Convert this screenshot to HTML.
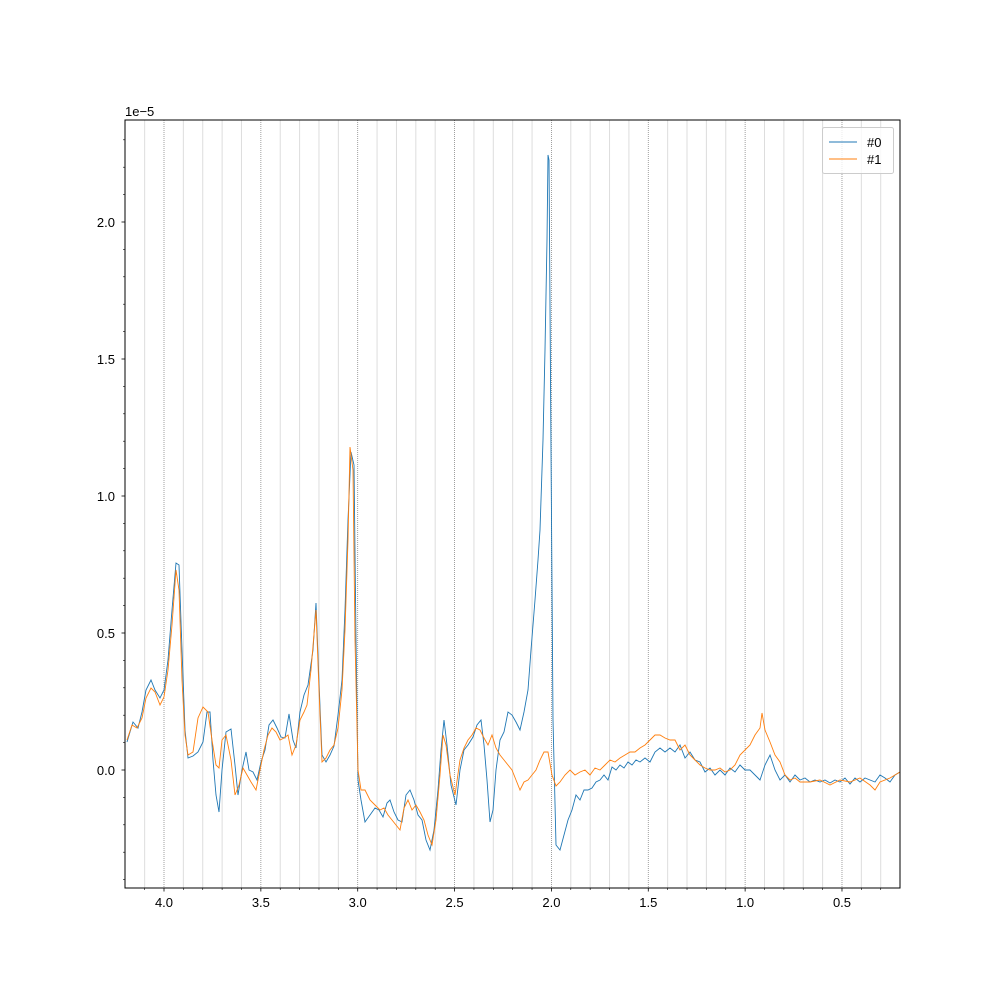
<!DOCTYPE html>
<html><head><meta charset="utf-8"><style>body{margin:0;background:#fff}svg{display:block}text{font-family:"Liberation Sans","DejaVu Sans",sans-serif;font-size:13px;fill:#000}</style></head>
<body>
<svg id="s" width="1000" height="1000" xmlns="http://www.w3.org/2000/svg">
<rect width="1000" height="1000" fill="#fff"/>
<g id="grid"></g>
<polyline fill="none" stroke="#1f77b4" stroke-width="0.9" points="127,742 133,722 138,728 142,712 146,690 151,680 155,690 160,698 164,690 168,660 172,610 176,563 179,565 182,650 185,730 188,758 193,756 198,752 203,742 207,712 210,712 213,760 216,795 219,812 222,770 226,732 231,729 235,765 238,795 242,770 246,752 249,770 253,772 257,780 261,762 265,750 269,725 273,720 277,728 281,737 285,738 289,714 293,740 296,748 300,712 304,695 308,685 313,650 316,603 319,682 322,755 326,762 330,755 334,746 338,715 342,680 345,610 348,520 351,452 354,465 356,640 358,780 361,800 365,822 370,815 375,808 379,810 383,817 387,803 390,800 394,812 398,820 402,822 406,795 410,790 414,800 418,815 422,820 426,840 430,850 434,830 438,790 441,750 444,720 447,745 451,785 456,805 460,770 464,750 468,745 473,737 477,725 481,720 484,745 487,780 490,822 493,810 496,770 500,740 504,732 508,712 512,715 516,722 520,730 524,712 528,690 531,650 535,600 538,560 540,530 543,440 545,350 547,240 548,155 549,160 551,450 553,720 556,845 560,850 564,835 568,820 572,810 576,795 580,800 584,790 588,790 592,788 596,782 600,780 604,775 608,780 612,767 616,770 620,765 624,768 628,762 632,765 636,760 640,762 645,758 650,762 655,752 660,748 665,752 670,748 675,752 680,745 685,758 690,752 695,760 700,762 705,772 710,768 715,775 720,770 725,775 730,768 735,772 740,765 745,770 750,770 755,775 760,780 765,765 770,755 775,770 780,780 785,775 790,782 795,775 800,780 805,778 810,782 815,780 820,782 825,780 830,783 835,780 840,782 845,778 850,784 855,778 860,782 865,778 870,780 875,782 880,775 885,778 890,782 895,775 900,772"/>
<polyline fill="none" stroke="#ff7f0e" stroke-width="0.9" points="127,740 132,725 137,728 142,718 146,698 151,688 155,692 160,705 164,697 168,670 172,625 176,570 179,590 182,680 185,735 188,755 193,752 198,718 203,707 208,712 212,740 216,765 219,768 222,740 226,735 231,760 235,795 239,785 243,768 247,775 251,782 256,790 260,770 264,750 268,735 272,728 276,732 280,740 284,738 288,735 292,755 296,745 300,720 304,712 307,705 311,670 316,610 319,690 322,762 326,758 330,750 334,745 338,728 342,690 345,630 348,540 350,447 353,470 355,640 358,770 361,790 365,790 370,800 375,805 380,810 384,808 388,815 392,820 396,825 400,830 404,808 408,800 412,810 416,805 420,812 424,820 428,835 432,845 436,820 440,775 443,735 446,745 450,775 455,795 460,760 464,748 468,740 472,735 476,728 480,730 484,738 488,745 492,735 496,748 500,755 504,760 508,765 512,770 516,780 520,790 524,782 528,780 532,775 536,770 540,760 544,752 548,752 552,775 556,786 560,782 565,775 570,770 575,775 580,772 585,770 590,775 595,768 600,770 605,765 610,760 615,762 620,758 625,755 630,752 635,752 640,748 645,745 650,740 655,735 660,735 665,738 670,740 675,740 680,750 685,745 690,755 695,760 700,765 705,768 710,770 715,770 720,768 725,772 730,770 735,765 740,755 745,750 750,745 755,735 760,728 762,713 765,730 770,742 775,755 780,762 785,775 790,780 795,778 800,782 810,782 820,780 830,785 840,780 850,782 860,778 870,785 875,790 880,782 890,778 900,772"/>
<rect x="125" y="120" width="775" height="768" fill="none" stroke="#000" stroke-width="1"/>
<g id="ticks"></g>
<text x="125" y="116">1e−5</text>
<rect x="822.5" y="127.5" width="71" height="46" rx="2" fill="#fff" fill-opacity="0.8" stroke="#ccc"/>
<line x1="829" y1="142" x2="857" y2="142" stroke="#1f77b4" stroke-width="0.9"/>
<text x="867" y="147">#0</text>
<line x1="829" y1="159" x2="857" y2="159" stroke="#ff7f0e" stroke-width="0.9"/>
<text x="867" y="164">#1</text>
</svg>
<script>
var NS="http://www.w3.org/2000/svg",g=document.getElementById('grid'),t=document.getElementById('ticks');
function el(p,tag,a,txt){var e=document.createElementNS(NS,tag);for(var k in a)e.setAttribute(k,a[k]);if(txt)e.textContent=txt;p.appendChild(e);}
function X(v){return 164+(4.0-v)*193.71;}
function Y(v){return 770-v*274;}
for(var i=2;i<=42;i++){var v=i/10,x=X(v);if(x<125.5||x>899.5)continue;
 var major=(i%5==0);
 el(g,'line',{x1:x,y1:120,x2:x,y2:888,stroke:major?'#888':'#ddd','stroke-width':major?0.8:1,'stroke-dasharray':major?'1,1':''});
 el(t,'line',{x1:x,y1:888,x2:x,y2:888+(major?3.5:2),stroke:'#000','stroke-width':major?0.8:0.6});
 if(major&&i>=5&&i<=40)el(t,'text',{x:x,y:907,'text-anchor':'middle'},(v).toFixed(1));}
for(var j=-4;j<=23;j++){var y=Y(j/10),major=(j%5==0);
 el(t,'line',{x1:125,y1:y,x2:125-(major?3.5:2),y2:y,stroke:'#000','stroke-width':major?0.8:0.6});
 if(major)el(t,'text',{x:115,y:y+5,'text-anchor':'end'},(j/10).toFixed(1));}
</script>
</body></html>
